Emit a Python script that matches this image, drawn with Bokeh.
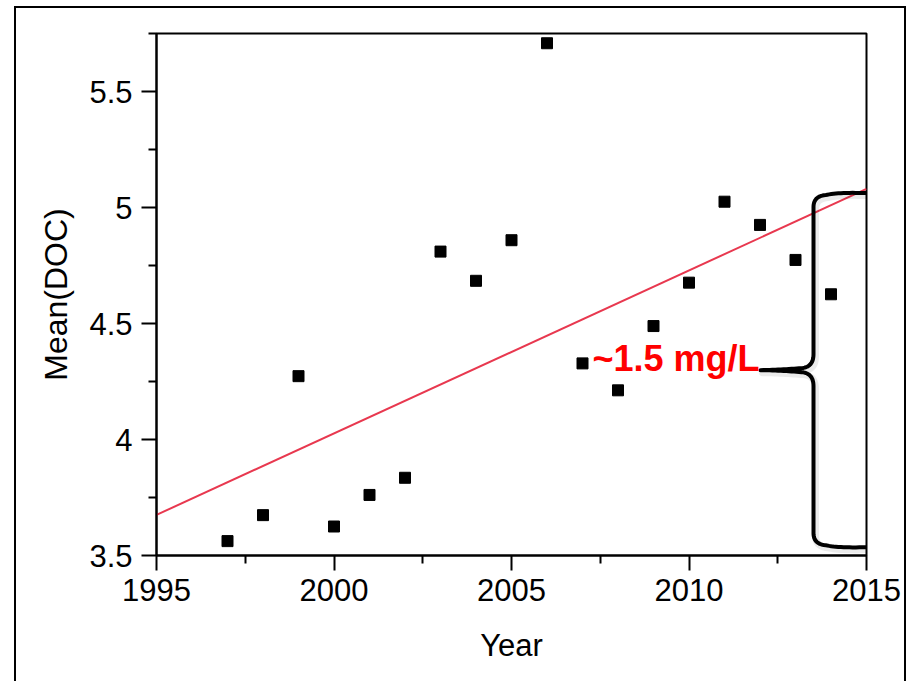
import numpy as np
from bokeh.plotting import figure
from bokeh.models import (FixedTicker, CustomJSTickFormatter, Range1d,
                          Label, InlineStyleSheet)
from bokeh.embed import file_html
from bokeh.resources import INLINE

# Annual mean dissolved organic carbon
years = [1997, 1998, 1999, 2000, 2001, 2002, 2003, 2004, 2005,
         2006, 2007, 2008, 2009, 2010, 2011, 2012, 2013, 2014]
mean_doc = [3.562, 3.674, 4.273, 3.625, 3.761, 3.835, 4.810, 4.684, 4.859,
            5.708, 4.328, 4.212, 4.489, 4.676, 5.025, 4.925, 4.774, 4.626]

# Linear trend line end points
fit_years = [1995, 2015]
fit_doc = [3.675, 5.08]

# Axis ticks
x_ticks = [1995, 2000, 2005, 2010, 2015]
x_tick_labels = ["1995", "2000", "2005", "2010", "2015"]
x_minor_ticks = [1997.5, 2002.5, 2007.5, 2012.5]
y_ticks = [3.5, 4.0, 4.5, 5.0, 5.5]
y_tick_labels = ["3.5", "4", "4.5", "5", "5.5"]
y_minor_ticks = [3.75, 4.25, 4.75, 5.25, 5.75]

# Range bracket annotation
brace_top = 5.062
brace_bottom = 3.536
brace_text = "~1.5 mg/L"

W, H = 910, 681
FRAME_L, FRAME_R, FRAME_T, FRAME_B = 156, 866, 33, 555
X0, X1 = 1995, 2015
Y0, Y1 = 3.5, 5.75

FONT = "Liberation Sans"
FONT_SIZE = "31px"

p = figure(width=W, height=H, output_backend="svg", toolbar_location=None,
           x_range=Range1d(X0, X1), y_range=Range1d(Y0, Y1),
           min_border_left=FRAME_L, min_border_right=W - FRAME_R,
           min_border_top=FRAME_T, min_border_bottom=H - FRAME_B)

p.grid.visible = False
p.background_fill_color = "white"
p.border_fill_color = "white"
p.outline_line_color = "black"
p.outline_line_width = 2

# Thin frame drawn around the whole figure (open at the bottom edge)
p.stylesheets = [InlineStyleSheet(css="""
:host { position: relative; }
:host::after {
  content: "";
  position: absolute;
  left: 14px; top: 6px;
  width: 888px; height: 675px;
  border: 2px solid black;
  border-bottom: none;
  pointer-events: none;
  z-index: 10;
}
""")]


def label_formatter(tick_values, tick_labels):
    return CustomJSTickFormatter(
        args=dict(tvals=tick_values, tlabels=tick_labels),
        code="const i = tvals.findIndex(t => Math.abs(t - tick) < 1e-9);"
             "return i >= 0 ? tlabels[i] : '';")


for ax, ticks, minor, labels in ((p.xaxis[0], x_ticks, x_minor_ticks, x_tick_labels),
                                 (p.yaxis[0], y_ticks, y_minor_ticks, y_tick_labels)):
    ax.ticker = FixedTicker(ticks=ticks, minor_ticks=minor)
    ax.formatter = label_formatter(ticks, labels)
    ax.axis_line_color = "black"
    ax.axis_line_width = 2
    ax.major_tick_line_color = "black"
    ax.major_tick_line_width = 2
    ax.minor_tick_line_color = "black"
    ax.minor_tick_line_width = 2
    ax.major_tick_in = 0
    ax.major_tick_out = 15
    ax.minor_tick_in = 0
    ax.minor_tick_out = 8
    ax.major_label_text_font = FONT
    ax.major_label_text_font_size = FONT_SIZE
    ax.major_label_text_color = "black"
    ax.axis_label_text_font = FONT
    ax.axis_label_text_font_size = FONT_SIZE
    ax.axis_label_text_font_style = "normal"
    ax.axis_label_text_color = "black"

p.xaxis.axis_label = "Year"
p.yaxis.axis_label = "Mean(DOC)"
p.yaxis.axis_label_text_font_size = "32px"
p.xaxis.major_label_standoff = 8
p.yaxis.major_label_standoff = 9
p.xaxis.axis_label_standoff = 24
p.yaxis.axis_label_standoff = 12

# Trend line and yearly means
p.line(fit_years, fit_doc, line_color="#E8384F", line_width=2)
p.scatter(years, mean_doc, marker="square", size=11,
          fill_color="black", line_color="black")

# Curly bracket spanning the trend over the record
dx = (X1 - X0) / (FRAME_R - FRAME_L)   # data units per pixel
dy = (Y1 - Y0) / (FRAME_B - FRAME_T)


def qbez(p0, c, p1, n=16):
    t = np.linspace(0, 1, n)[:, None]
    p0, c, p1 = map(np.asarray, (p0, c, p1))
    return (1 - t) ** 2 * p0 + 2 * (1 - t) * t * c + t ** 2 * p1


x_end = X1
x_spine = x_end - 53 * dx
x_tip = x_spine - 53 * dx
y_mid = (brace_top + brace_bottom) / 2
rx, ry = 12 * dx, 12 * dy

parts = [
    qbez((x_end, brace_top), (x_spine + 25 * dx, brace_top + 1 * dy),
         (x_spine + rx, brace_top - 2 * dy)),
    qbez((x_spine + rx, brace_top - 2 * dy), (x_spine, brace_top - 3 * dy),
         (x_spine, brace_top - 2 * dy - ry)),
    qbez((x_spine, y_mid + 4 * dy + ry), (x_spine, y_mid + 3 * dy),
         (x_spine - rx, y_mid + 2 * dy)),
    qbez((x_spine - rx, y_mid + 2 * dy), (x_spine - 30 * dx, y_mid + 0.5 * dy),
         (x_tip, y_mid)),
    qbez((x_tip, y_mid), (x_spine - 30 * dx, y_mid - 0.5 * dy),
         (x_spine - rx, y_mid - 2 * dy)),
    qbez((x_spine - rx, y_mid - 2 * dy), (x_spine, y_mid - 3 * dy),
         (x_spine, y_mid - 4 * dy - ry)),
    qbez((x_spine, brace_bottom + 2 * dy + ry), (x_spine, brace_bottom + 3 * dy),
         (x_spine + rx, brace_bottom + 2 * dy)),
    qbez((x_spine + rx, brace_bottom + 2 * dy), (x_spine + 25 * dx, brace_bottom - 1 * dy),
         (x_end, brace_bottom)),
]
brace = np.vstack(parts)

# soft drop shadow, then the bracket itself
p.line(brace[:, 0] + 2 * dx, brace[:, 1] - 2.5 * dy, line_color="black",
       line_alpha=0.08, line_width=7, line_join="round", line_cap="round")
p.line(brace[:, 0], brace[:, 1], line_color="black", line_width=4,
       line_join="round", line_cap="round")

p.add_layout(Label(x=x_tip - 1 * dx, y=y_mid + 12 * dy, text=brace_text,
                   text_align="right", text_baseline="alphabetic",
                   text_font=FONT, text_font_size="36px",
                   text_font_style="bold", text_color="#FF0000"))

open("out.html", "w").write(file_html(p, INLINE))
